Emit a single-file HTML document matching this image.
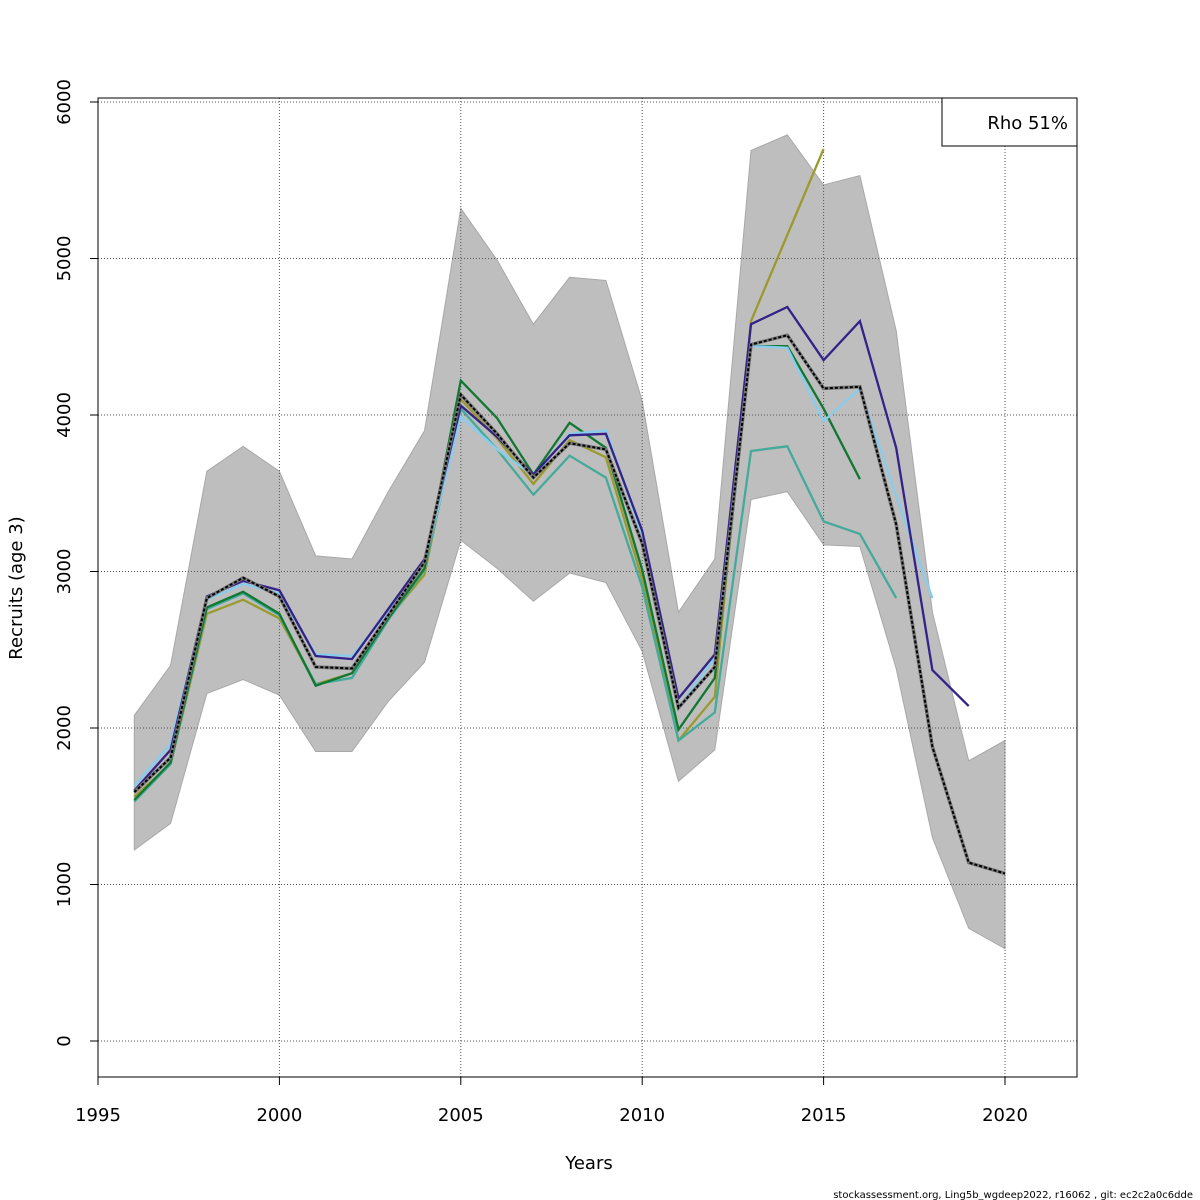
<!DOCTYPE html>
<html><head><meta charset="utf-8"><style>body{margin:0;background:#fff}svg{display:block;font-family:"DejaVu Sans","Liberation Sans",sans-serif}</style></head>
<body>
<svg id="chart" width="1200" height="1200" xmlns="http://www.w3.org/2000/svg">
<rect width="1200" height="1200" fill="#fff"/>
<g id="band"></g>
<g id="grid"></g>
<g id="lines"></g>
<rect x="98" y="98" width="979" height="979" fill="none" stroke="#000"/>
<g id="axes"></g>
<text x="589" y="1169" font-size="18" text-anchor="middle">Years</text>
<text transform="translate(22,588) rotate(-90)" font-size="18" text-anchor="middle">Recruits (age 3)</text>
<g>
<rect x="942" y="98" width="135" height="48" fill="#fff" stroke="#000"/>
<text x="1068" y="129" font-size="18" text-anchor="end">Rho 51%</text>
</g>
<text x="1193" y="1198" font-size="10" text-anchor="end">stockassessment.org, Ling5b_wgdeep2022, r16062 , git: ec2c2a0c6dde</text>
</svg>
<script>
const years=[1996,1997,1998,1999,2000,2001,2002,2003,2004,2005,2006,2007,2008,2009,2010,2011,2012,2013,2014,2015,2016,2017,2018,2019,2020];
const base=[1590,1810,2830,2960,2840,2390,2380,2720,3060,4130,3880,3600,3820,3780,3180,2130,2390,4450,4510,4170,4180,3300,1880,1140,1070];
const upper=[2080,2400,3640,3800,3640,3100,3080,3510,3900,5320,4990,4580,4880,4860,4090,2740,3080,5690,5790,5470,5530,4540,2740,1790,1920];
const lower=[1220,1390,2220,2310,2210,1850,1850,2170,2420,3200,3020,2810,2990,2930,2490,1660,1860,3460,3510,3170,3160,2380,1300,720,590];
const peel1=[1600,1860,2840,2940,2880,2460,2440,2760,3080,4060,3860,3620,3870,3880,3260,2190,2470,4580,4690,4350,4600,3790,2370,2140];
const peel2=[1630,1900,2820,2920,2860,2470,2460,2740,3060,3990,3780,3610,3880,3900,3230,2130,2450,4440,4430,3960,4170,3480,2830];
const peel3=[1540,1780,2770,2870,2730,2270,2350,2700,3020,4220,3980,3620,3950,3790,3010,1990,2320,4440,4440,4040,3590];
const peel4=[1530,1770,2760,2860,2720,2280,2320,2690,3010,4040,3780,3490,3740,3600,2900,1920,2100,3770,3800,3320,3240,2830];
const peel5=[1560,1770,2730,2820,2700,2280,2350,2700,2980,4100,3850,3560,3840,3730,2950,1920,2200,4600,5150,5700];
const xTicks=[1995,2000,2005,2010,2015,2020];
const yTicks=[0,1000,2000,3000,4000,5000,6000];
const NS="http://www.w3.org/2000/svg";
const X=y=>98+(y-1995)*36.28;
const Y=v=>1041-v*0.1565;
function mk(p,t,a){const e=document.createElementNS(NS,t);for(const k in a)e.setAttribute(k,a[k]);document.getElementById(p).appendChild(e);return e;}
const pts=(arr)=>arr.map((v,i)=>X(years[i]).toFixed(1)+','+Y(v).toFixed(1)).join(' ');
let bp=upper.map((v,i)=>X(years[i])+','+Y(v));
for(let i=lower.length-1;i>=0;i--)bp.push(X(years[i])+','+Y(lower[i]));
const band=mk('band','polygon',{points:bp.join(' '),fill:'#bebebe',stroke:'#a8a8a8','stroke-width':1});


xTicks.forEach(t=>{
 const g=mk('grid','line',{x1:X(t),x2:X(t),y1:98,y2:1077,stroke:'#555','stroke-dasharray':'1,2'});
 
 
 const tk=mk('axes','line',{x1:X(t),x2:X(t),y1:1077,y2:1085,stroke:'#000'});
 
 
 const tx=mk('axes','text',{x:X(t),y:1121,'font-size':18,'text-anchor':'middle'});tx.textContent=t;
 
 
});
yTicks.forEach(t=>{
 const g=mk('grid','line',{x1:98,x2:1077,y1:Y(t),y2:Y(t),stroke:'#555','stroke-dasharray':'1,2'});
 
 
 const tk=mk('axes','line',{x1:90,x2:98,y1:Y(t),y2:Y(t),stroke:'#000'});
 
 
 const tx=mk('axes','text',{transform:`translate(70,${Y(t)}) rotate(-90)`,'font-size':18,'text-anchor':'middle'});tx.textContent=t;
 
 
});
const series=[[peel5,'#9a9a2e','peel-5'],[peel4,'#44aa99','peel-4'],[peel3,'#117733','peel-3'],[peel2,'#88ccee','peel-2'],[peel1,'#332288','peel-1']];
series.forEach(s=>{
 const l=mk('lines','polyline',{points:pts(s[0]),fill:'none',stroke:s[1],'stroke-width':2.3});
 
 
});
const b1=mk('lines','polyline',{points:pts(base),fill:'none',stroke:'#777','stroke-width':3.5});


const b2=mk('lines','polyline',{points:pts(base),fill:'none',stroke:'#000','stroke-width':2,'stroke-dasharray':'3,2'});


</script>
</body></html>
